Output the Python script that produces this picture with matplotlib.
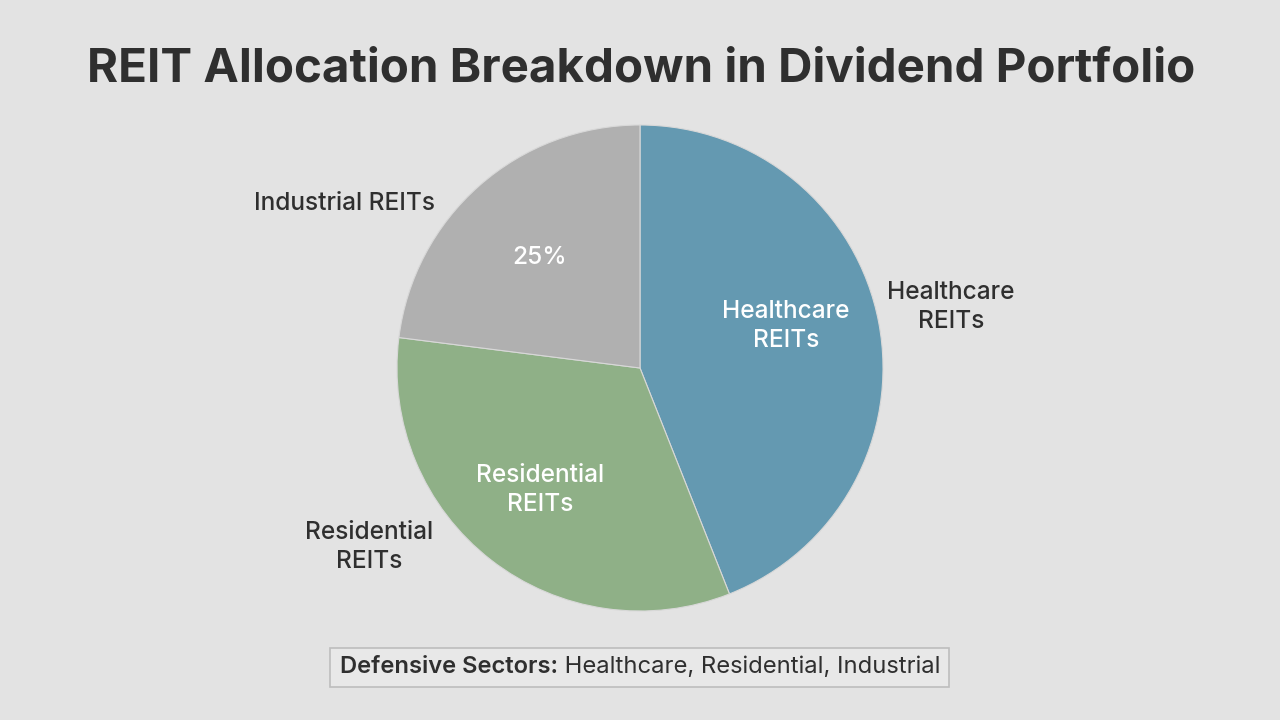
import matplotlib.pyplot as plt

# slice shares as drawn (clockwise from 12 o'clock)
sectors = ['Healthcare REITs', 'Residential REITs', 'Industrial REITs']
shares = [44, 33, 23]
colors = ['#6499b1', '#8fb087', '#b0b0b0']

outer_labels = ['Healthcare\nREITs', 'Residential\nREITs', 'Industrial REITs']
inner_labels = ['Healthcare\nREITs', 'Residential\nREITs', '25%']

title = 'REIT Allocation Breakdown in Dividend Portfolio'
note_bold = 'Defensive Sectors:'
note_rest = ' Healthcare, Residential, Industrial'

bg = '#e3e3e3'
dark = '#2f2f2f'
plt.rcParams['font.family'] = ['Inter', 'DejaVu Sans']

fig = plt.figure(figsize=(12.8, 7.2), dpi=100, facecolor=bg)
# one axes over the whole canvas, units are pixels (y up)
ax = fig.add_axes([0, 0, 1, 1])

cx, cy, r = 640, 720 - 368, 243
ax.pie(shares, colors=colors, startangle=90, counterclock=False,
       center=(cx, cy), radius=r,
       wedgeprops=dict(edgecolor='#d8d8d8', linewidth=0.8))
# pie() resets the limits, so set them afterwards
ax.set_xlim(0, 1280)
ax.set_ylim(0, 720)
ax.set_aspect('equal')
ax.axis('off')

# label placement (hand tuned like the reference)
outer_pos = [(951, 307), (369, 547), (345, 203)]
inner_pos = [(786, 326), (540, 490), (540, 258)]
for txt, (x, y) in zip(outer_labels, outer_pos):
    ax.text(x, 720 - y, txt, ha='center', va='center', fontsize=17.6,
            color=dark, fontweight='medium', linespacing=1.38)
for txt, (x, y) in zip(inner_labels, inner_pos):
    ax.text(x, 720 - y, txt, ha='center', va='center', fontsize=17.6,
            color='white', fontweight='medium', linespacing=1.38)

ax.text(641, 720 - 69, title, ha='center', va='center', fontsize=34.2,
        fontweight='bold', color=dark)

# footer note in a box
box = plt.Rectangle((330, 720 - 687), 619, 39, facecolor='#e8e8e8',
                    edgecolor='#bdbdbd', linewidth=1.2)
ax.add_patch(box)
t1 = ax.text(340, 720 - 667, note_bold, ha='left', va='center',
             fontsize=17.1, fontweight='semibold', color=dark)
fig.canvas.draw()
bb = t1.get_window_extent()
x_end = ax.transData.inverted().transform((bb.x1, bb.y0))[0]
ax.text(x_end, 720 - 667, note_rest, ha='left', va='center',
        fontsize=17.1, color=dark)

fig.savefig('out.png', dpi=100, facecolor=bg)
